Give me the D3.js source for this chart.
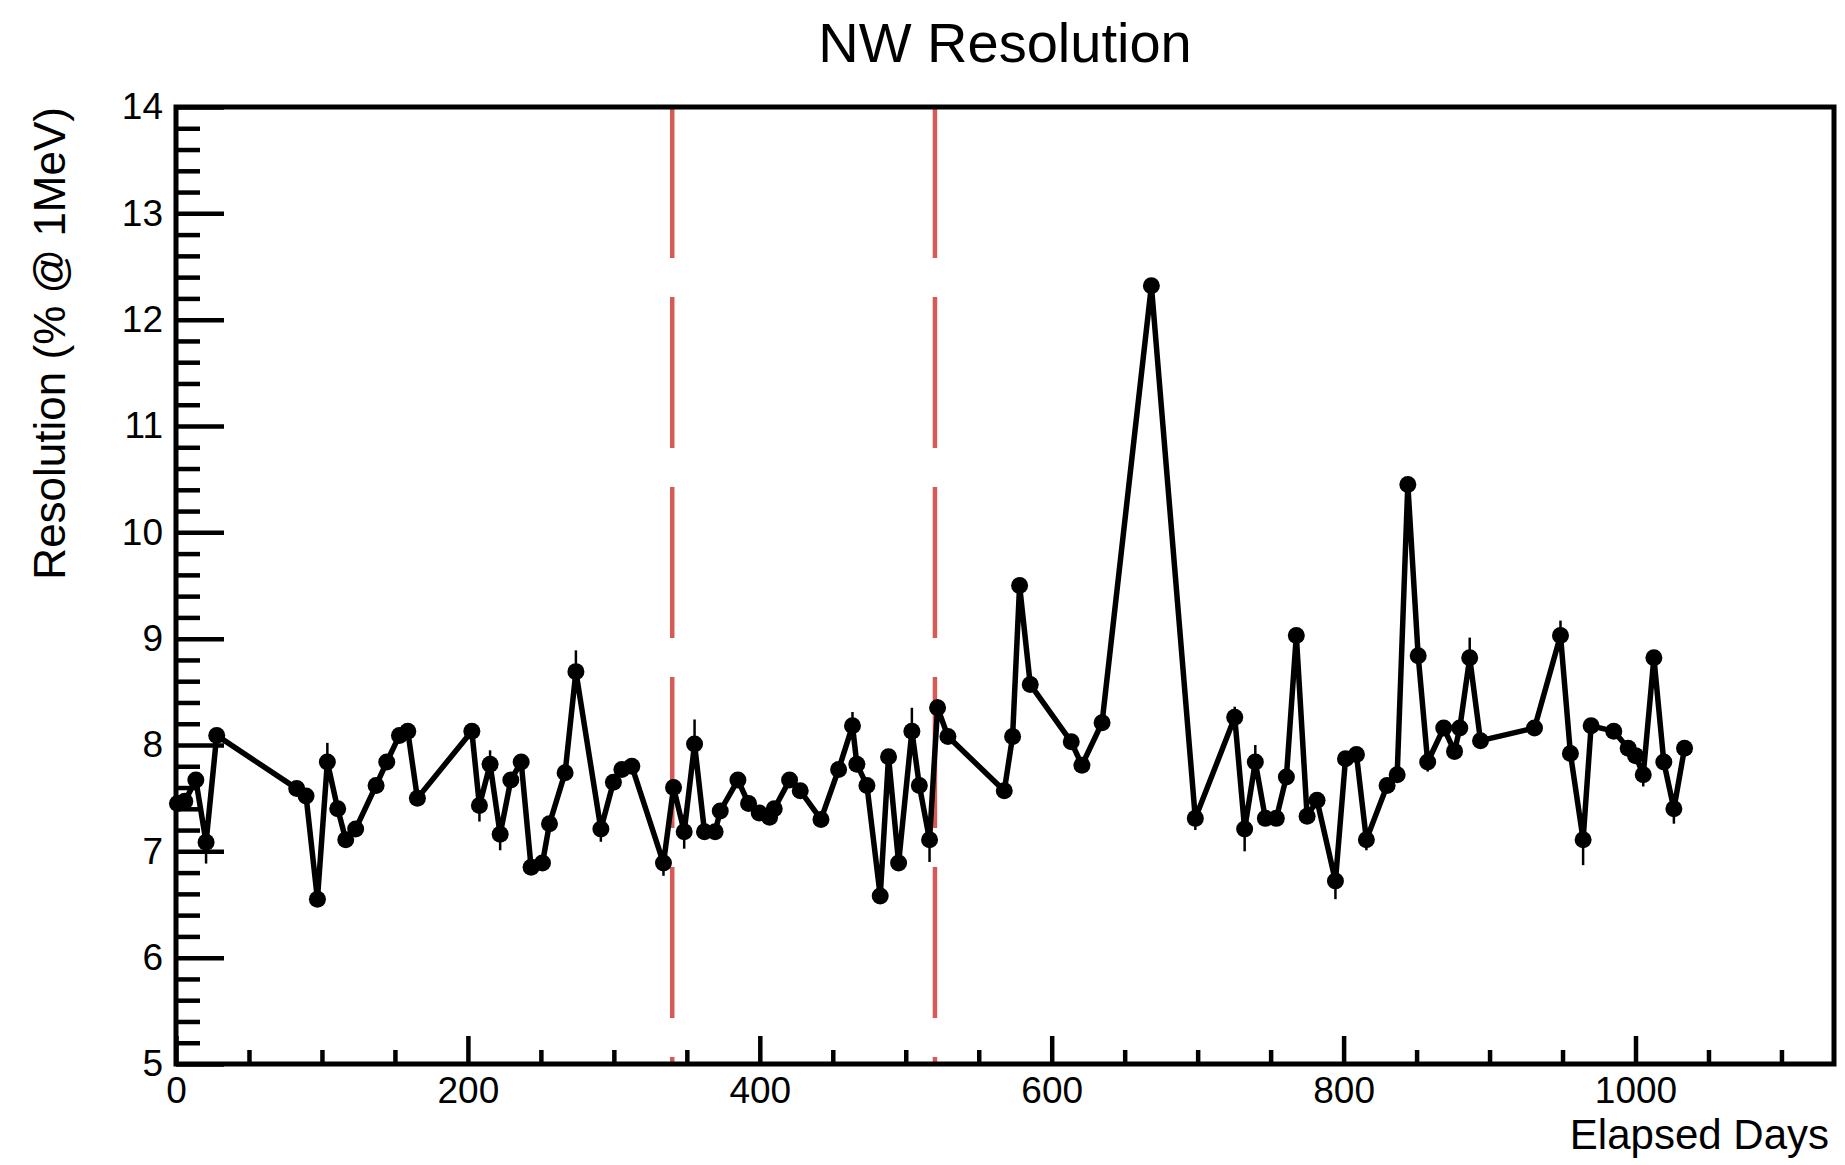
<!DOCTYPE html>
<html>
<head>
<meta charset="utf-8">
<script src="https://cdn.jsdelivr.net/npm/d3@7"></script>
<style>
  body { margin: 0; background: #fff; }
  svg { display: block; }
  text { font-family: "Liberation Sans", Arial, Helvetica, sans-serif; fill: #000; }
</style>
</head>
<body>
<svg id="chart" width="1845" height="1165"></svg>
<script>
// ---------- data ----------
const chartTitle = "NW Resolution";
const xAxisTitle = "Elapsed Days";
const yAxisTitle = "Resolution (% @ 1MeV)";

const days = [
  1, 6, 13.6, 20.6, 27.9, 82.7, 89.1, 96.9, 103.7, 110.8,
  116.3, 123.1, 137.1, 144.4, 153.1, 158.8, 165.4, 202.7, 207.9, 215.2,
  222.1, 229.4, 236.5, 243.3, 251.1, 255.9, 266.6, 274, 291.1, 299.7,
  305.5, 312.3, 334, 340.9, 348.2, 355.3, 362.1, 369.4, 372.9, 385,
  392.3, 399.6, 406.7, 409.9, 420.4, 427.7, 441.9, 454, 463.5, 466.5,
  473.4, 482.5, 488.2, 495.1, 504.2, 509.3, 516.3, 521.8, 528.9, 567.5,
  573.2, 578, 585.3, 613.4, 620.7, 634.5, 668.3, 698.4, 725.4, 732.2,
  739.5, 746.4, 753.9, 760.8, 767.6, 775, 781.8, 794.4, 801.3, 808.8,
  815.6, 829.8, 836.7, 844, 851.1, 857.6, 868.6, 876, 879.6, 886.4,
  893.8, 930.8, 948.6, 955.4, 964.1, 969.6, 985.1, 995, 1000, 1005.3,
  1012.6, 1019.4, 1026.3, 1033.6
];

const resolution = [
  7.45, 7.47, 7.67, 7.085, 8.09, 7.59, 7.52, 6.55, 7.84, 7.40,
  7.11, 7.21, 7.62, 7.84, 8.09, 8.13, 7.50, 8.13, 7.43, 7.82,
  7.16, 7.67, 7.84, 6.85, 6.89, 7.26, 7.74, 8.69, 7.21, 7.65,
  7.77, 7.80, 6.89, 7.60, 7.185, 8.01, 7.185, 7.185, 7.38, 7.67,
  7.45, 7.36, 7.32, 7.40, 7.67, 7.57, 7.30, 7.77, 8.18, 7.82,
  7.62, 6.58, 7.89, 6.89, 8.13, 7.62, 7.11, 8.35, 8.08, 7.57,
  8.08, 9.50, 8.57, 8.03, 7.81, 8.21, 12.32, 7.31, 8.26, 7.21,
  7.84, 7.31, 7.31, 7.70, 9.03, 7.33, 7.48, 6.72, 7.87, 7.91,
  7.11, 7.62, 7.72, 10.45, 8.84, 7.84, 8.16, 7.94, 8.16, 8.82,
  8.04, 8.16, 9.03, 7.92, 7.11, 8.18, 8.13, 7.97, 7.90, 7.72,
  8.82, 7.84, 7.40, 7.97
];

const resolutionErr = [
  0.06, 0.06, 0.06, 0.20, 0.06, 0.06, 0.06, 0.06, 0.18, 0.06,
  0.06, 0.06, 0.06, 0.06, 0.06, 0.06, 0.06, 0.06, 0.15, 0.13,
  0.15, 0.06, 0.06, 0.06, 0.06, 0.06, 0.06, 0.20, 0.12, 0.06,
  0.06, 0.06, 0.12, 0.06, 0.16, 0.23, 0.06, 0.06, 0.06, 0.06,
  0.06, 0.06, 0.06, 0.06, 0.06, 0.06, 0.06, 0.06, 0.13, 0.06,
  0.06, 0.06, 0.06, 0.06, 0.22, 0.06, 0.21, 0.08, 0.06, 0.06,
  0.06, 0.06, 0.06, 0.06, 0.06, 0.06, 0.06, 0.11, 0.10, 0.21,
  0.16, 0.06, 0.06, 0.06, 0.06, 0.06, 0.06, 0.17, 0.06, 0.06,
  0.10, 0.06, 0.06, 0.06, 0.06, 0.09, 0.06, 0.06, 0.06, 0.19,
  0.06, 0.06, 0.14, 0.06, 0.24, 0.06, 0.06, 0.06, 0.06, 0.11,
  0.06, 0.06, 0.14, 0.06
];

const xDomain = [0, 1136];
const yDomain = [5, 14];
const xMajorTicks = [0, 200, 400, 600, 800, 1000];
const xMinorTicks = [50, 100, 150, 250, 300, 350, 450, 500, 550, 650, 700, 750, 850, 900, 950, 1050, 1100];
const yMajorTicks = [5, 6, 7, 8, 9, 10, 11, 12, 13, 14];
const yMinorTicks = [5.2, 5.4, 5.6, 5.8, 6.2, 6.4, 6.6, 6.8, 7.2, 7.4, 7.6, 7.8,
                     8.2, 8.4, 8.6, 8.8, 9.2, 9.4, 9.6, 9.8, 10.2, 10.4, 10.6, 10.8,
                     11.2, 11.4, 11.6, 11.8, 12.2, 12.4, 12.6, 12.8, 13.2, 13.4, 13.6, 13.8];
const markerLineDays = [340, 520];

// ---------- layout ----------
const plot = { left: 176, right: 1834, top: 107, bottom: 1064 };

const svg = d3.select("#chart");
const x = d3.scaleLinear().domain(xDomain).range([plot.left, plot.right]);
const y = d3.scaleLinear().domain(yDomain).range([plot.bottom, plot.top]);

const points = days.map((d, i) => ({ d, v: resolution[i], e: resolutionErr[i] }));

// ---------- axes (ticks inward) ----------
function styleAxis(g) {
  g.select(".domain").remove();
  g.selectAll(".tick line").attr("stroke", "#000").attr("stroke-width", 4.5);
  g.selectAll(".tick text").attr("font-size", 37).attr("fill", "#000");
}

svg.append("g")
  .attr("transform", `translate(0,${plot.bottom})`)
  .call(d3.axisBottom(x).tickValues(xMinorTicks).tickSize(-14).tickFormat(""))
  .call(styleAxis);
svg.append("g")
  .attr("transform", `translate(0,${plot.bottom})`)
  .call(d3.axisBottom(x).tickValues(xMajorTicks).tickSize(-28).tickPadding(13).tickFormat(d3.format("d")))
  .call(styleAxis);

svg.append("g")
  .attr("transform", `translate(${plot.left},0)`)
  .call(d3.axisLeft(y).tickValues(yMinorTicks).tickSize(-24).tickFormat(""))
  .call(styleAxis);
svg.append("g")
  .attr("transform", `translate(${plot.left},0)`)
  .call(d3.axisLeft(y).tickValues(yMajorTicks).tickSize(-48).tickPadding(13).tickFormat(d3.format("d")))
  .call(styleAxis);

// ---------- red dashed vertical lines ----------
svg.append("g").selectAll("line").data(markerLineDays).join("line")
  .attr("x1", d => x(d)).attr("x2", d => x(d))
  .attr("y1", y(yDomain[1])).attr("y2", y(yDomain[0]))
  .attr("stroke", "#d65a55")
  .attr("stroke-width", 4.5)
  .attr("stroke-dasharray", "151,39");

// ---------- data ----------
const line = d3.line().x(p => x(p.d)).y(p => y(p.v));
svg.append("path")
  .datum(points)
  .attr("d", line)
  .attr("fill", "none")
  .attr("stroke", "#000")
  .attr("stroke-width", 5.5)
  .attr("stroke-linejoin", "miter")
  .attr("stroke-miterlimit", 3);

svg.append("g").selectAll("line").data(points).join("line")
  .attr("x1", p => x(p.d)).attr("x2", p => x(p.d))
  .attr("y1", p => y(p.v - p.e)).attr("y2", p => y(p.v + p.e))
  .attr("stroke", "#000")
  .attr("stroke-width", 2.5);

svg.append("g").selectAll("circle").data(points).join("circle")
  .attr("cx", p => x(p.d))
  .attr("cy", p => y(p.v))
  .attr("r", 8.5)
  .attr("fill", "#000");

// ---------- frame ----------
svg.append("rect")
  .attr("x", plot.left).attr("y", plot.top)
  .attr("width", plot.right - plot.left)
  .attr("height", plot.bottom - plot.top)
  .attr("fill", "none")
  .attr("stroke", "#000")
  .attr("stroke-width", 5);

// ---------- titles ----------
svg.append("text")
  .attr("x", (plot.left + plot.right) / 2)
  .attr("y", 62)
  .attr("text-anchor", "middle")
  .attr("font-size", 56)
  .text(chartTitle);

svg.append("text")
  .attr("x", 1829)
  .attr("y", 1149)
  .attr("text-anchor", "end")
  .attr("font-size", 42)
  .text(xAxisTitle);

svg.append("text")
  .attr("transform", `translate(65,${plot.top}) rotate(-90)`)
  .attr("text-anchor", "end")
  .attr("font-size", 44)
  .text(yAxisTitle);
</script>
</body>
</html>
